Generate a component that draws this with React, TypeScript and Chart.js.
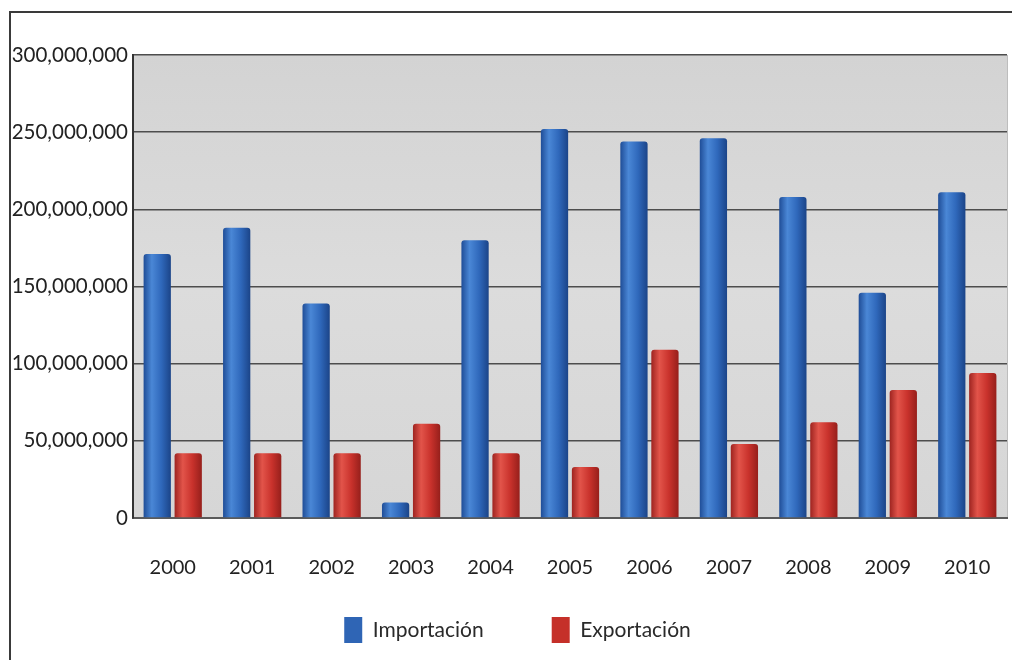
import React, { useEffect, useRef } from 'react';
import { Chart, registerables } from 'chart.js';

Chart.register(...registerables);

const years = ['2000', '2001', '2002', '2003', '2004', '2005', '2006', '2007', '2008', '2009', '2010'];
const importacion = [171e6, 188e6, 139e6, 10e6, 180e6, 252e6, 244e6, 246e6, 208e6, 146e6, 211e6];
const exportacion = [42e6, 42e6, 42e6, 61e6, 42e6, 33e6, 109e6, 48e6, 62e6, 83e6, 94e6];
const yTicks = [0, 50e6, 100e6, 150e6, 200e6, 250e6, 300e6];
const seriesNames = ['Importación', 'Exportación'];

const CAT_PCT = 0.78;
const BAR_PCT = 0.88;
const FONT = 'Lato, "Open Sans", sans-serif';
const X_TICK_PAD = 38;
const LEGEND_PAD = 68;
const LEGEND_UP = 33;
const LEGEND_RIGHT = 14;

const blueStops = ['#1f4d97', '#4a87d6', '#2f68bb', '#1b4488'];
const redStops = ['#9e2420', '#e2544a', '#c9322c', '#961f1b'];
const solid = ['#2f65b5', '#c53029'];

function barGradient(dsIndex: number, stops: string[]) {
  return (ctx: any) => {
    const chart = ctx.chart;
    const xs = chart.scales && chart.scales.x;
    if (!xs || ctx.type !== 'data' || !chart.chartArea) return stops[2];
    const cat = xs.width / years.length;
    const slot = (cat * CAT_PCT) / 2;
    const w = slot * BAR_PCT;
    const c = xs.getPixelForValue(ctx.dataIndex) + (dsIndex - 0.5) * slot;
    const g = chart.ctx.createLinearGradient(c - w / 2, 0, c + w / 2, 0);
    g.addColorStop(0, stops[0]);
    g.addColorStop(0.3, stops[1]);
    g.addColorStop(0.65, stops[2]);
    g.addColorStop(1, stops[3]);
    return g;
  };
}

const framePlugin = {
  id: 'frame',
  beforeDraw(chart: any) {
    const { ctx, chartArea: a } = chart;
    ctx.save();
    ctx.fillStyle = '#ffffff';
    ctx.fillRect(0, 0, chart.width, chart.height);
    const g = ctx.createLinearGradient(0, a.top, 0, a.bottom);
    g.addColorStop(0, '#d3d3d3');
    g.addColorStop(0.5, '#dcdcdc');
    g.addColorStop(1, '#d6d6d6');
    ctx.fillStyle = g;
    ctx.fillRect(a.left, a.top, a.right - a.left, a.bottom - a.top);
    ctx.strokeStyle = '#bdbdbd';
    ctx.lineWidth = 1;
    ctx.beginPath();
    ctx.moveTo(a.right + 0.5, a.top);
    ctx.lineTo(a.right + 0.5, a.bottom);
    ctx.stroke();
    ctx.strokeStyle = '#3a3a3a';
    ctx.lineWidth = 2;
    ctx.beginPath();
    ctx.moveTo(10, chart.height);
    ctx.lineTo(10, 12);
    ctx.lineTo(chart.width, 12);
    ctx.stroke();
    ctx.restore();
  },
};

// keeps the legend's wide horizontal spacing without taking extra vertical room
const legendShift = {
  id: 'legendShift',
  beforeLayout(chart: any) {
    const lg = chart.legend;
    if (lg && !lg.__patched) {
      const orig = lg.fit.bind(lg);
      lg.fit = function () {
        orig();
        this.height -= LEGEND_UP;
      };
      lg.__patched = true;
    }
  },
  afterLayout(chart: any) {
    const lg = chart.legend;
    if (lg) {
      lg.top -= LEGEND_UP;
      lg.left += LEGEND_RIGHT;
      lg.right += LEGEND_RIGHT;
    }
  },
};

export default function App() {
  const ref = useRef<HTMLCanvasElement>(null);
  useEffect(() => {
    if (!ref.current) return;
    const chart = new Chart(ref.current, {
      type: 'bar',
      data: {
        labels: years,
        datasets: [
          {
            label: seriesNames[0],
            data: importacion,
            backgroundColor: barGradient(0, blueStops) as any,
            borderWidth: 0,
            borderRadius: { topLeft: 3, topRight: 3, bottomLeft: 0, bottomRight: 0 },
            borderSkipped: false,
            categoryPercentage: CAT_PCT,
            barPercentage: BAR_PCT,
          },
          {
            label: seriesNames[1],
            data: exportacion,
            backgroundColor: barGradient(1, redStops) as any,
            borderWidth: 0,
            borderRadius: { topLeft: 3, topRight: 3, bottomLeft: 0, bottomRight: 0 },
            borderSkipped: false,
            categoryPercentage: CAT_PCT,
            barPercentage: BAR_PCT,
          },
        ],
      },
      options: {
        animation: false,
        responsive: false,
        layout: { padding: { top: 55, right: 5, bottom: 7, left: 0 } },
        plugins: {
          tooltip: { enabled: false },
          legend: {
            position: 'bottom',
            labels: {
              font: { family: FONT, size: 21 },
              color: '#2a2a2a',
              boxWidth: 18,
              boxHeight: 26,
              padding: LEGEND_PAD,
              generateLabels: (c: any) =>
                c.data.datasets.map((d: any, i: number) => ({
                  text: d.label,
                  fillStyle: solid[i],
                  strokeStyle: solid[i],
                  lineWidth: 0,
                  hidden: false,
                  datasetIndex: i,
                  fontColor: '#2a2a2a',
                })),
            },
          },
        },
        scales: {
          x: {
            grid: { display: false, drawTicks: false },
            border: { display: true, color: '#5a5a5a', width: 2 },
            ticks: { font: { family: FONT, size: 20 }, color: '#222', padding: X_TICK_PAD },
            afterFit: (s: any) => {
              s.paddingLeft = 0;
              s.paddingRight = 0;
              s.height = X_TICK_PAD + 26;
            },
          },
          y: {
            min: 0,
            max: 300e6,
            afterBuildTicks: (s: any) => {
              s.ticks = yTicks.map((v) => ({ value: v }));
            },
            afterFit: (s: any) => {
              s.width = 133;
            },
            grid: { color: '#4d4d4d', lineWidth: 1.5, drawTicks: false },
            border: { display: true, color: '#333', width: 2 },
            ticks: {
              font: { family: FONT, size: 20.5 },
              color: '#222',
              padding: 5,
              callback: (v: any) => Number(v).toLocaleString('en-US'),
            },
          },
        },
      },
      plugins: [framePlugin, legendShift],
    });
    return () => chart.destroy();
  }, []);
  return (
    <div style={{ position: 'fixed', left: 0, top: 0, width: 1012, height: 660 }}>
      <canvas ref={ref} width={1012} height={660} style={{ display: 'block' }} />
    </div>
  );
}
